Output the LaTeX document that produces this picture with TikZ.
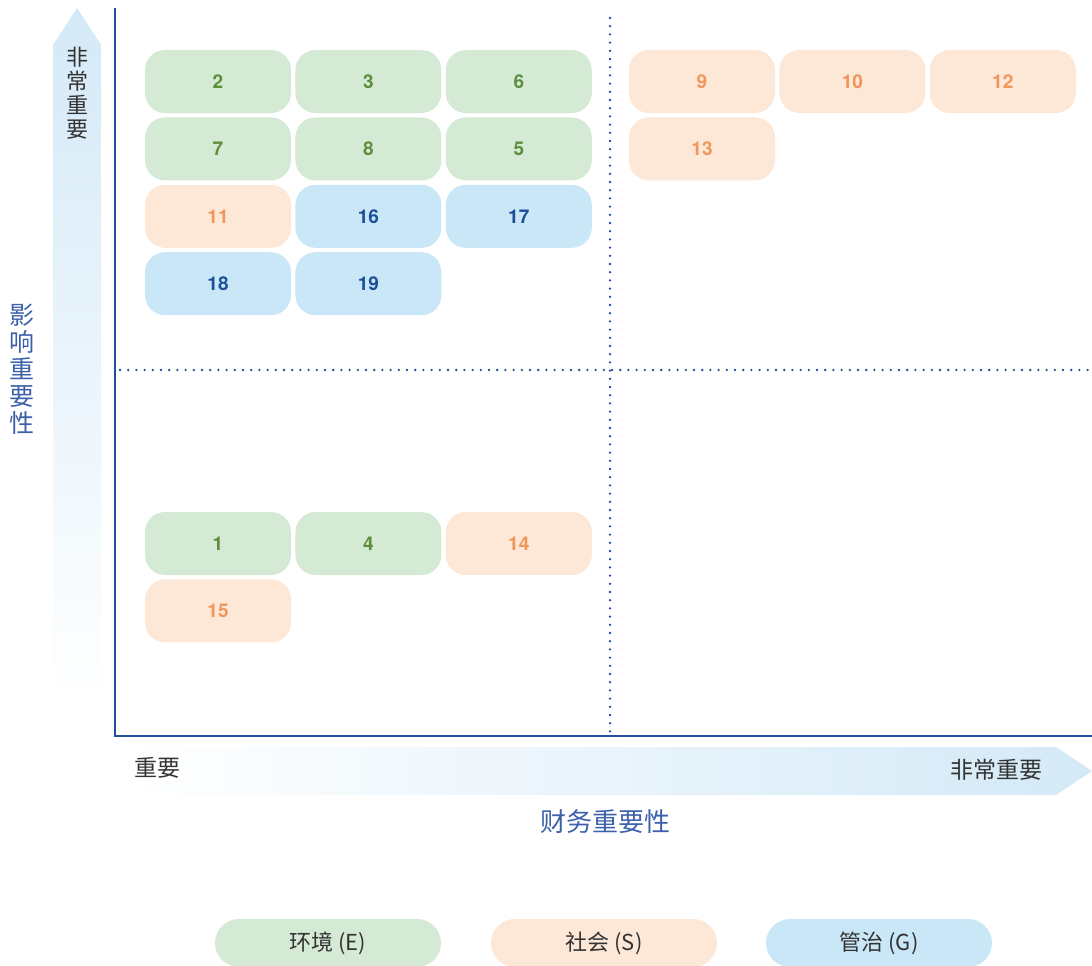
\documentclass[tikz,border=0pt]{standalone}
\usepackage{fontspec}
\setmainfont{TeX Gyre Heros}
\newfontfamily\cjk{Noto Sans CJK SC}
\usetikzlibrary{positioning}
\definecolor{axisblue}{HTML}{1F4E9B}
\definecolor{envfill}{HTML}{D5EAD5}
\definecolor{envtext}{HTML}{5B8F3B}
\definecolor{socfill}{HTML}{FDE7D7}
\definecolor{soctext}{HTML}{F0965A}
\definecolor{govfill}{HTML}{C9E7F7}
\definecolor{govtext}{HTML}{1B4F99}
\definecolor{arrowblue}{HTML}{D4E9F7}
\definecolor{labelblue}{HTML}{3C61AA}
\definecolor{darktext}{HTML}{333333}
\tikzset{issue/.style={rounded corners=20pt,minimum width=146pt,minimum height=63pt,inner sep=0pt,font=\fontsize{19}{19}\selectfont\bfseries},
	 env/.style={issue,fill=envfill,text=envtext},
	 soc/.style={issue,fill=socfill,text=soctext},
	 gov/.style={issue,fill=govfill,text=govtext},
	 legend/.style={rounded corners=24pt,minimum width=226pt,minimum height=48pt,inner sep=0pt,font=\cjk\fontsize{22}{22}\selectfont,text=darktext},
	 axis/.style={draw=axisblue,line width=2.4pt},
	 grid/.style={draw=axisblue,line width=2.6pt,line cap=round,dash pattern=on 0pt off 8.2pt},
	 node distance = 4pt
	 }

\begin{document}
\begin{tikzpicture}[x=1pt,y=-1pt]
	\useasboundingbox (0,0) rectangle (1092,966);
	% arrows behind the axes
	\shade[top color=arrowblue,bottom color=white] (53,705) -- (53,45) -- (77,8) -- (101,45) -- (101,705) -- cycle;
	\shade[left color=white,right color=arrowblue] (120,747) -- (1056,747) -- (1092,771) -- (1056,795) -- (120,795) -- cycle;
	\node[font=\cjk\fontsize{22}{24}\selectfont,text=darktext,align=center] (vhigh) at (77,93) {非\\常\\重\\要};
	\node[font=\cjk\fontsize{23}{23}\selectfont,text=darktext] (hlow) at (157,768) {重要};
	\node[font=\cjk\fontsize{23}{23}\selectfont,text=darktext] (hhigh) at (996,770) {非常重要};
	\node[font=\cjk\fontsize{26}{26}\selectfont,text=labelblue] (xlabel) at (605,822) {财务重要性};
	\node[font=\cjk\fontsize{25}{27}\selectfont,text=labelblue,align=center] (ylabel) at (22,369) {影\\响\\重\\要\\性};

	% axes and quadrant lines
	\coordinate (top) at (115,8); \coordinate (origin) at (115,736); \coordinate (end) at (1092,736);
	\coordinate (vt) at (610,18); \coordinate (vb) at (610,734);
	\coordinate (hl) at (120,370); \coordinate (hr) at (1090,370);
	\draw[grid] (vt) -- (vb); \draw[grid] (hl) -- (hr);
	\draw[axis] (top) -- (origin) -- (end);

	% upper left quadrant
	\node[env] (n2) at (218,81.5) {2};
	\node[env] (n3) [right=of n2] {3};
	\node[env] (n6) [right=of n3] {6};
	\node[env] (n7) [below=of n2] {7};
	\node[env] (n8) [right=of n7] {8};
	\node[env] (n5) [right=of n8] {5};
	\node[soc] (n11) [below=of n7] {11};
	\node[gov] (n16) [right=of n11] {16};
	\node[gov] (n17) [right=of n16] {17};
	\node[gov] (n18) [below=of n11] {18};
	\node[gov] (n19) [right=of n18] {19};

	% upper right quadrant
	\node[soc] (n9) at (702,81.5) {9};
	\node[soc] (n10) [right=of n9] {10};
	\node[soc] (n12) [right=of n10] {12};
	\node[soc] (n13) [below=of n9] {13};

	% lower left quadrant
	\node[env] (n1) at (218,543.5) {1};
	\node[env] (n4) [right=of n1] {4};
	\node[soc] (n14) [right=of n4] {14};
	\node[soc] (n15) [below=of n1] {15};

	% legend
	\node[legend,fill=envfill] (legE) at (328,943) {环境 (E)};
	\node[legend,fill=socfill] (legS) at (604,943) {社会 (S)};
	\node[legend,fill=govfill] (legG) at (879,943) {管治 (G)};
\end{tikzpicture}
\end{document}
